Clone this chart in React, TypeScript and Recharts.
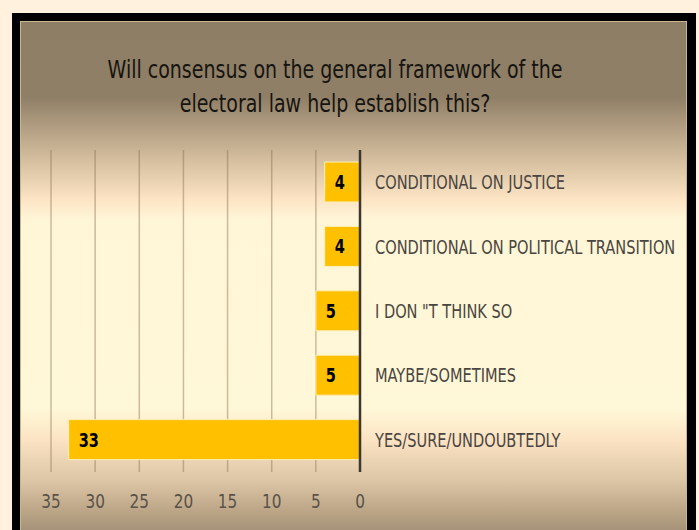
import React from 'react';
import { BarChart, Bar, XAxis, YAxis, CartesianGrid, LabelList } from 'recharts';

const categories = [
  'CONDITIONAL ON JUSTICE',
  'CONDITIONAL ON POLITICAL TRANSITION',
  'I DON "T THINK SO',
  'MAYBE/SOMETIMES',
  'YES/SURE/UNDOUBTEDLY',
];
const values = [4, 4, 5, 5, 33];
const xTicks = [0, 5, 10, 15, 20, 25, 30, 35];
const titleLines = [
  'Will consensus on the general framework of the',
  'electoral law help establish this?',
];

const data = categories.map((name, i) => ({ name, value: values[i] }));

const FONT = "'Liberation Sans Narrow', 'DejaVu Sans Condensed', 'Open Sans', sans-serif";

const CategoryTick = (props: any) => {
  const { y, payload } = props;
  return (
    <g transform={`translate(375,${y}) scale(0.81,1)`}>
      <text x={0} y={0} dy={7} textAnchor="start" fontFamily={FONT} fontSize={20} fill="#4a4540">
        {payload.value}
      </text>
    </g>
  );
};

const NumberTick = (props: any) => {
  const { x, y, payload } = props;
  return (
    <g transform={`translate(${x},${y}) scale(0.85,1)`}>
      <text x={0} y={0} dy={16} textAnchor="middle" fontFamily={FONT} fontSize={20} fill="#5a5248">
        {payload.value}
      </text>
    </g>
  );
};

const ValueLabel = (props: any) => {
  const { x, y, width, height, value } = props;
  const left = Math.min(x, x + width);
  return (
    <g transform={`translate(${left + 10},${y + height / 2}) scale(0.85,1)`}>
      <text x={0} y={0} dy={7} textAnchor="start" fontFamily={FONT} fontWeight="bold" fontSize={19} fill="#000">
        {value}
      </text>
    </g>
  );
};

export default function App() {
  return (
    <div style={{ position: 'absolute', left: 0, top: 0, width: 699, height: 530, background: '#FFF1DD', overflow: 'hidden' }}>
      <div style={{ position: 'absolute', left: 12, top: 13, width: 684, height: 530, background: '#000' }} />
      <div
        style={{
          position: 'absolute',
          left: 20,
          top: 21,
          width: 665,
          height: 520,
          border: '1px solid #C9B591',
          background:
            'linear-gradient(to bottom, #8E7E65 0%, #8F7F66 14.4%, #B8A387 21.3%, #D8C2A2 27.2%, #FCE4C4 34.1%, #FFF6D8 38%, #FFF8D8 74.4%, #FBE3C3 80.3%, #DCC6A6 88.2%, #BBA586 94.1%, #988770 100%)',
        }}
      />
      {titleLines.map((t, i) => (
        <div
          key={i}
          style={{
            position: 'absolute',
            left: 0,
            width: 670,
            top: 55 + i * 34,
            textAlign: 'center',
            fontFamily: FONT,
            fontSize: 24,
            color: '#161410',
            lineHeight: '30px',
            transform: 'scaleX(0.88)',
            transformOrigin: '335px 0',
          }}
        >
          {t}
        </div>
      ))}
      <div style={{ position: 'absolute', left: 0, top: 0 }}>
        <BarChart
          width={699}
          height={530}
          data={data}
          layout="vertical"
          margin={{ top: 150, right: 0, bottom: 8, left: 51 }}
        >
          <CartesianGrid horizontal={false} vertical={true} stroke="#8A7052" strokeOpacity={0.45} strokeWidth={1.5} />
          <XAxis
            type="number"
            domain={[0, 35]}
            ticks={xTicks}
            reversed
            axisLine={false}
            tickLine={false}
            height={50}
            tickMargin={14}
            tick={<NumberTick />}
            interval={0}
          />
          <YAxis
            type="category"
            dataKey="name"
            orientation="right"
            width={339}
            axisLine={{ stroke: '#3c3830', strokeWidth: 2.5 }}
            tickLine={false}
            tick={<CategoryTick />}
            interval={0}
          />
          <Bar dataKey="value" fill="#FFC000" stroke="#FFEFB8" strokeWidth={1} barSize={40} isAnimationActive={false}>
            <LabelList dataKey="value" content={<ValueLabel />} />
          </Bar>
        </BarChart>
      </div>
    </div>
  );
}
